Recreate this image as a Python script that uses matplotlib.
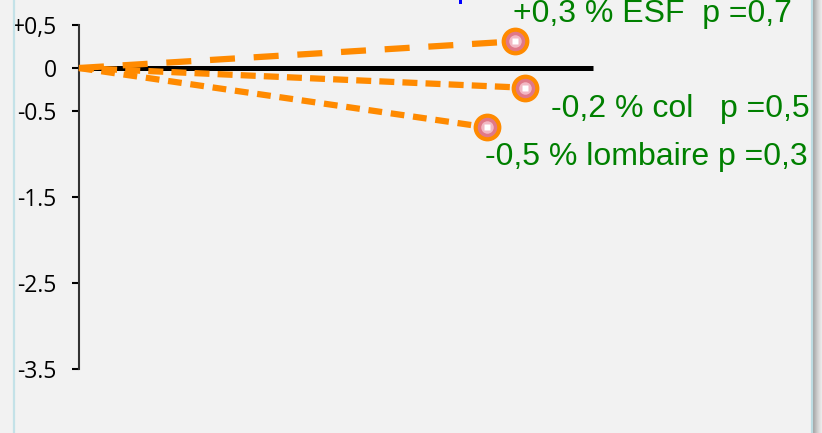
import matplotlib.pyplot as plt
from matplotlib.lines import Line2D
from matplotlib.patches import Rectangle

# values
sites = ["ESF", "col", "lombaire"]
labels = ["+0,3 % ESF  p =0,7", "-0,2 % col   p =0,5", "-0,5 % lombaire p =0,3"]
x_end = [1.0, 1.023, 0.936]
y_end = [0.31, -0.23, -0.69]
zero_line_end = 1.18

yticks = [0.5, 0, -0.5, -1.5, -2.5, -3.5]
ytick_labels = ["+0,5", "0", "-0.5", "-1.5", "-2.5", "-3.5"]

# styles, separate from the data
dash_styles = [(4.0, 3.0), (2.4, 1.3), (2.2, 1.4)]
label_offsets = [(-2, 19), (26, -29), (-2, -38)]

ORANGE = "#ff8a00"
GREEN = "#008000"
BG = "#f2f2f2"
W, H = 822, 433


def main() -> None:
    fig = plt.figure(figsize=(W / 100, H / 100), dpi=100, facecolor=BG)
    ax = fig.add_axes([0, 0, 1, 1], facecolor=BG)
    # x: 0 at px 79, one unit = 436 px ; y: 0 at px 68, one unit = 86 px
    ax.set_xlim(-79 / 436, (W - 79) / 436)
    ax.set_ylim(-(H - 68) / 86, 68 / 86)

    for side in ["top", "right", "bottom"]:
        ax.spines[side].set_visible(False)
    ax.spines["left"].set_position(("data", 0))
    ax.spines["left"].set_bounds(yticks[-1], yticks[0])
    ax.spines["left"].set_color("#333333")
    ax.spines["left"].set_linewidth(1.5)
    ax.set_xticks([])
    ax.set_yticks(yticks, ytick_labels)
    ax.tick_params(axis="y", direction="out", length=5, width=1.5, pad=11,
                   colors="black")
    for t in ax.get_yticklabels():
        t.set_fontfamily(["Open Sans", "DejaVu Sans"])
        t.set_fontsize(16.5)

    ax.plot([0, zero_line_end], [0, 0], color="black", lw=3.6, zorder=2,
            solid_capstyle="butt")

    for i in range(len(sites)):
        ax.plot([0, x_end[i]], [0, y_end[i]], color=ORANGE, lw=4.5,
                dashes=dash_styles[i], zorder=3)
        ax.plot(x_end[i], y_end[i], "o", ms=17, mfc="#e07888", mec=ORANGE,
                mew=3, zorder=4)
        ax.plot(x_end[i], y_end[i], "o", ms=9, mfc="#f2b8c4", mec="none",
                zorder=5)
        ax.plot(x_end[i], y_end[i], "s", ms=4, mfc="white", mec="none",
                zorder=6)
        ax.annotate(labels[i], (x_end[i], y_end[i]), xytext=label_offsets[i],
                    textcoords="offset pixels", color=GREEN, fontsize=23,
                    family="Liberation Sans", ha="left", va="baseline")

    # visible sliver of the cut-off blue title
    fig.add_artist(Rectangle((459 / W, 1 - 4 / H), 3 / W, 4 / H,
                             color="#0000ff", lw=0, transform=fig.transFigure))

    # panel border and right-hand shadow
    fig.add_artist(Line2D([14 / W, 14 / W], [0, 1], color="#c4e2e8", lw=1.6))
    fig.add_artist(Line2D([811.5 / W, 811.5 / W], [0, 1], color="#bcdce2", lw=1.6))
    shades = ["#a6a6a6", "#b0b0b0", "#bababa", "#c4c4c4", "#cecece",
              "#d6d6d6", "#dedede", "#e4e4e4", "#eaeaea"]
    for k, c in enumerate(shades):
        fig.add_artist(Rectangle(((813 + k) / W, 0), 1 / W, 1, color=c,
                                 transform=fig.transFigure, lw=0))

    fig.savefig("out.png", dpi=100, facecolor=BG)
    plt.close(fig)


if __name__ == "__main__":
    main()
